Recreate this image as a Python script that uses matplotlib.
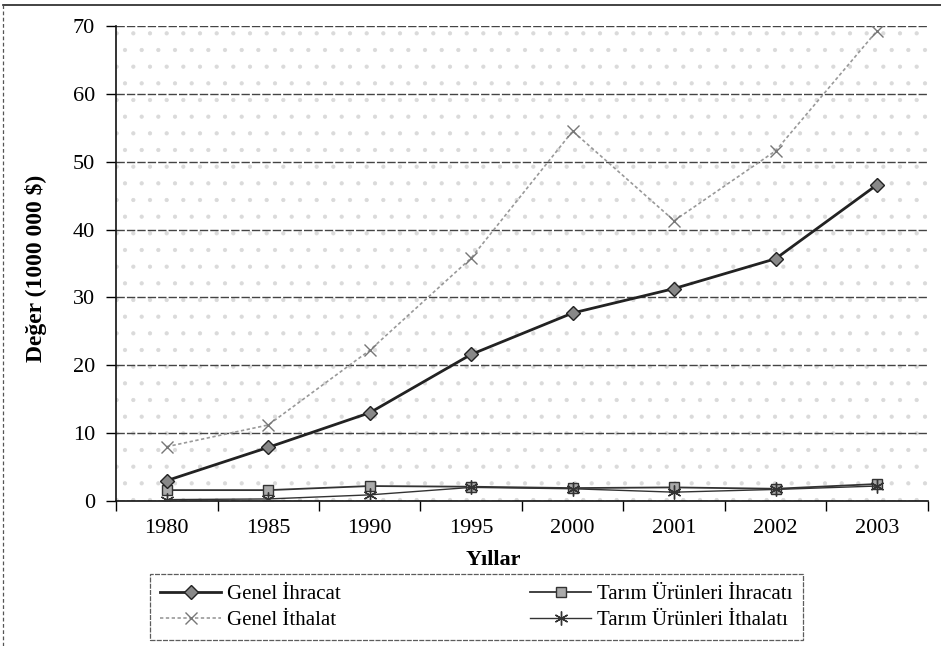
import matplotlib.pyplot as plt
from matplotlib.lines import Line2D
from matplotlib.patches import Rectangle

plt.rcParams['font.family'] = ['Liberation Serif', 'DejaVu Serif']
plt.rcParams['hatch.linewidth'] = 0.6

# Data
years = ["1980", "1985", "1990", "1995", "2000", "2001", "2002", "2003"]
genel_ihracat = [3.0, 7.9, 13.0, 21.6, 27.7, 31.3, 35.7, 46.6]
genel_ithalat = [8.0, 11.2, 22.2, 35.8, 54.5, 41.3, 51.6, 69.3]
tarim_ihracati = [1.6, 1.6, 2.2, 2.1, 1.9, 2.0, 1.8, 2.5]
tarim_ithalati = [0.2, 0.3, 0.9, 2.0, 1.8, 1.3, 1.7, 2.2]

x = list(range(len(years)))

fig = plt.figure(figsize=(9.41, 6.46), dpi=100)
ax = fig.add_axes([0.1233, 0.2245, 0.8627, 0.7353])

# speckled scan-like background
ax.add_patch(Rectangle((0, 0), 1, 1, transform=ax.transAxes, facecolor='white',
                       hatch='.', edgecolor='#dadada', linewidth=0, zorder=0))

ax.set_xlim(-0.5, len(years) - 0.5)
ax.set_ylim(0, 70)
ax.set_yticks(range(0, 71, 10))
ax.yaxis.grid(True, color='#444444', linewidth=1.0, linestyle=(0, (6, 1.5)))
ax.set_axisbelow(True)

ax.plot(x, genel_ihracat, color='#222222', linewidth=2.0, marker='D', markersize=7,
        markerfacecolor='#888888', markeredgecolor='#222222', label='Genel İhracat', zorder=4)
ax.plot(x, genel_ithalat, color='#999999', linewidth=1.2, linestyle=(0, (2, 1.5)),
        marker='x', markersize=9, markeredgecolor='#777777', label='Genel İthalat', zorder=3)
ax.plot(x, tarim_ihracati, color='#333333', linewidth=1.3, marker='s', markersize=7,
        markerfacecolor='#aaaaaa', markeredgecolor='#333333', label='Tarım Ürünleri İhracatı', zorder=3)
ax.plot(x, tarim_ithalati, color='#333333', linewidth=1.0, marker=(6, 2, 0), markersize=10,
        markeredgecolor='#333333', label='Tarım Ürünleri İthalatı', zorder=3)

for side in ['top', 'right']:
    ax.spines[side].set_visible(False)
for side in ['left', 'bottom']:
    ax.spines[side].set_linewidth(1.2)
    ax.spines[side].set_color('#111111')

ax.set_xticks(x)
ax.set_xticklabels(years)
ax.set_xticks([i - 0.5 for i in range(len(years) + 1)], minor=True)
ax.tick_params(axis='x', which='major', length=0, pad=13, labelsize=16)
ax.tick_params(axis='x', which='minor', length=7, width=1.0, direction='out')
ax.tick_params(axis='y', length=7, width=1.0, labelsize=16, pad=8)

ax.set_xlabel('Yıllar', fontsize=16, fontweight='bold')
ax.xaxis.set_label_coords(0.465, -0.103)
ax.set_ylabel('Değer (1000 000 $)', fontsize=17, fontweight='bold')
ax.yaxis.set_label_coords(-0.085, 0.49)

handles, labels = ax.get_legend_handles_labels()
leg = fig.legend(handles, labels, loc='upper left', ncol=2,
                 bbox_to_anchor=(150 / 941, 1 - 574 / 646), bbox_transform=fig.transFigure,
                 fontsize=15, frameon=True, fancybox=False, edgecolor='#333333',
                 handlelength=2.9, handletextpad=0.3, columnspacing=9.1,
                 borderaxespad=0, labelspacing=0.3, borderpad=0.5)
leg.get_frame().set_linewidth(0.9)
leg.get_frame().set_linestyle((0, (4, 1)))

# page border (top and left as in the scan)
fig.add_artist(Line2D([0.003, 1.0], [0.992, 0.992], transform=fig.transFigure,
                      color='#222222', linewidth=1.2))
fig.add_artist(Line2D([0.003, 0.003], [0.0, 0.992], transform=fig.transFigure,
                      color='#555555', linewidth=0.9, linestyle=(0, (3, 2))))

fig.savefig('out.png', dpi=100)
